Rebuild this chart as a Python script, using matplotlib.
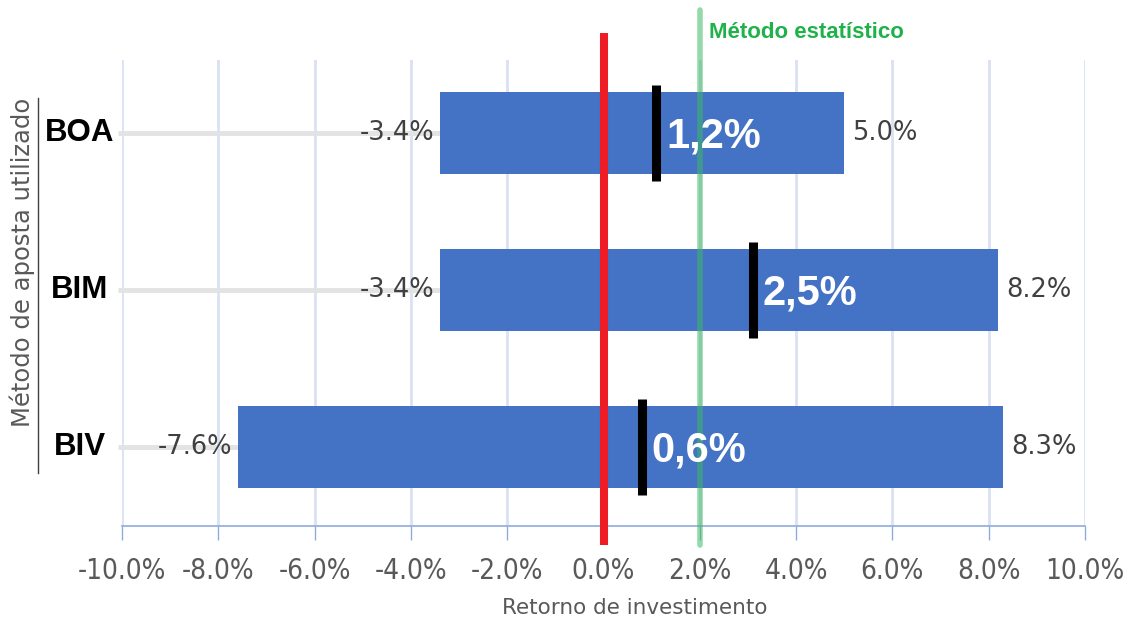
import matplotlib
matplotlib.use("Agg")
import matplotlib.pyplot as plt
from matplotlib.lines import Line2D

categories = ["BIV", "BIM", "BOA"]
low_vals = [-7.6, -3.4, -3.4]
high_vals = [8.3, 8.2, 5.0]
marker_vals = [0.8, 3.1, 1.1]
marker_labels = ["0,6%", "2,5%", "1,2%"]
ticks = [-10, -8, -6, -4, -2, 0, 2, 4, 6, 8, 10]
zero_line = 0.0
stat_line = 2.0

W, H = 1132, 619
fig = plt.figure(figsize=(W / 100, H / 100), dpi=100)
ax = fig.add_axes([122 / W, 1 - 526 / H, (1085 - 122) / W, (526 - 60) / H])
ax.set_xlim(-10, 10)
ax.set_ylim(-0.503, 2.465)

ypos = list(range(len(categories)))
grid_c = "#d9e1f2"
for t in ticks:
    ax.axvline(t, color=grid_c, lw=2, zorder=0)

# connector lines
for y, lo in zip(ypos, low_vals):
    ax.plot([-10.08, lo], [y, y], color="#e3e3e3", lw=3.5, zorder=1,
            solid_capstyle="butt", clip_on=False)

ax.barh(ypos, [h - l for h, l in zip(high_vals, low_vals)], left=low_vals,
        height=0.52, color="#4472c4", zorder=2)

for y, lo, hi in zip(ypos, low_vals, high_vals):
    ax.text(lo - 0.12, y, f"{lo:.1f}%", ha="right", va="center",
            fontsize=18.5, color="#404040", zorder=5)
    ax.text(hi + 0.17, y, f"{hi:.1f}%", ha="left", va="center",
            fontsize=18.5, color="#404040", zorder=5)

# red zero line
ax.plot([zero_line, zero_line], [-0.624, 2.637], color="#ee1c25", lw=5.8,
        zorder=4, clip_on=False, solid_capstyle="butt")
# green stat line
ax.plot([stat_line, stat_line], [-0.624, 2.783], color="#3dba63", lw=4,
        alpha=0.55, zorder=4, clip_on=False, solid_capstyle="round")
ax.text(stat_line + 0.2, 2.643, "Método estatístico", color="#1fb14a",
        fontsize=16, fontweight="bold", ha="left", va="center",
        family="Liberation Sans")

for y, m, lab in zip(ypos, marker_vals, marker_labels):
    ax.plot([m, m], [y - 0.305, y + 0.305], color="black", lw=6.5,
            solid_capstyle="butt", zorder=6)
    ax.text(m + 0.2, y - 0.02, lab, color="white", fontsize=30,
            fontweight="bold", ha="left", va="center", zorder=7,
            family="Liberation Sans")

ax.set_yticks([])
for s in ["left", "right", "top"]:
    ax.spines[s].set_visible(False)
ax.spines["bottom"].set_color("#8faadc")
ax.spines["bottom"].set_linewidth(1.2)
ax.set_xticks(ticks)
ax.set_xticklabels([f"{t:.1f}%" for t in ticks], fontsize=20, color="#595959",
                   fontstretch="condensed")
ax.tick_params(axis="x", length=10, color="#8faadc", width=1, pad=12)
ax.set_xlabel("Retorno de investimento", fontsize=15.5, color="#595959",
              labelpad=10)
ax.xaxis.label.set_x(0.532)

# category labels
for y, c in zip(ypos, categories):
    ypx = 447 - 157 * y
    fig.text(80 / W, 1 - ypx / H, c, fontsize=22.5, fontweight="bold",
             ha="center", va="center", color="black", family="Liberation Sans")

fig.text(22 / W, 1 - 262 / H, "Método de aposta utilizado", rotation=90,
         fontsize=17.5, color="#595959", ha="center", va="center")
fig.add_artist(Line2D([38 / W, 38 / W], [1 - 98 / H, 1 - 473 / H],
                      color="#404040", lw=1, transform=fig.transFigure))

fig.savefig("out.png", dpi=100, facecolor="white")
